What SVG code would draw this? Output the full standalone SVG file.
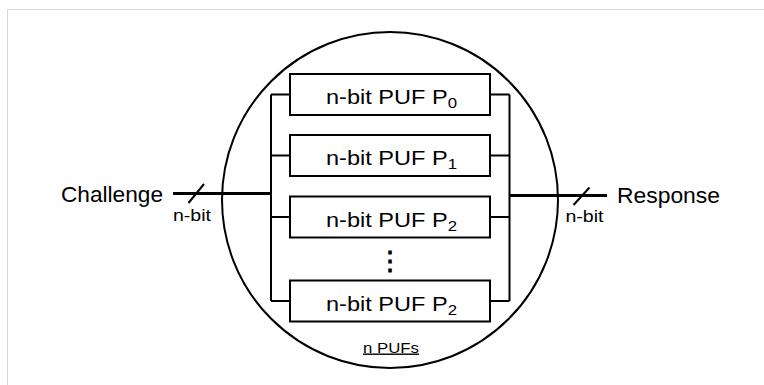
<svg xmlns="http://www.w3.org/2000/svg" width="764" height="385" viewBox="0 0 764 385">
<style>
.ln{stroke:#000;fill:none;stroke-width:2}
.thick{stroke:#000;fill:none;stroke-width:3}
.box{fill:#fff;stroke:#000;stroke-width:2}
.t{font-family:"Liberation Sans",Arial,sans-serif;fill:#000}
</style>
<rect width="764" height="385" fill="#fff"/>
<path d="M7.5 385 V9.5 H764" stroke="#d9d9d9" stroke-width="1" fill="none"/>
<g id="container">
<circle cx="390" cy="200" r="168" class="ln"/>
<text class="t" x="363" y="352.5" font-size="14" textLength="56" lengthAdjust="spacingAndGlyphs" text-decoration="underline">n PUFs</text>
</g>
<g id="connectors">
<path class="thick" d="M173 193.5 H271"/>
<path class="thick" d="M509.5 195.5 H607"/>
<path class="ln" d="M271 94.5 V301 M271 94.5 H290 M271 155.5 H290 M271 217 H290 M271 301 H290"/>
<path class="ln" d="M509.5 94.5 V301 M490 94.5 H509.5 M490 155.5 H509.5 M490 217 H509.5 M490 301 H509.5"/>
<path class="ln" stroke-width="1.6" d="M188.5 203 L204 184"/>
<path class="ln" stroke-width="1.6" d="M573.5 205 L589.5 187.5"/>
<text class="t" x="173" y="221" font-size="16" textLength="38" lengthAdjust="spacingAndGlyphs">n-bit</text>
<text class="t" x="565.5" y="222" font-size="16" textLength="38" lengthAdjust="spacingAndGlyphs">n-bit</text>
</g>
<g id="challenge">
<text class="t" x="61" y="201.5" font-size="22" textLength="102" lengthAdjust="spacingAndGlyphs">Challenge</text>
</g>
<g id="response">
<text class="t" x="617" y="202.5" font-size="22" textLength="103" lengthAdjust="spacingAndGlyphs">Response</text>
</g>
<g id="puf0">
<rect class="box" x="290" y="74" width="200" height="41"/>
<text class="t" x="326" y="104" font-size="21" textLength="131" lengthAdjust="spacingAndGlyphs">n-bit PUF P<tspan font-size="15" dy="4">0</tspan></text>
</g>
<g id="puf1">
<rect class="box" x="290" y="135" width="200" height="41"/>
<text class="t" x="326" y="165" font-size="21" textLength="131" lengthAdjust="spacingAndGlyphs">n-bit PUF P<tspan font-size="15" dy="4">1</tspan></text>
</g>
<g id="puf2">
<rect class="box" x="290" y="196.5" width="200" height="41"/>
<text class="t" x="326" y="226.5" font-size="21" textLength="131" lengthAdjust="spacingAndGlyphs">n-bit PUF P<tspan font-size="15" dy="4">2</tspan></text>
</g>
<g id="ellipsis">
<text class="t" x="390" y="270" font-size="26" text-anchor="middle" font-family="DejaVu Sans, sans-serif" font-weight="bold">⋮</text>
</g>
<g id="pufn">
<rect class="box" x="290" y="280.5" width="200" height="41"/>
<text class="t" x="326" y="310.5" font-size="21" textLength="131" lengthAdjust="spacingAndGlyphs">n-bit PUF P<tspan font-size="15" dy="4">2</tspan></text>
</g>
</svg>
